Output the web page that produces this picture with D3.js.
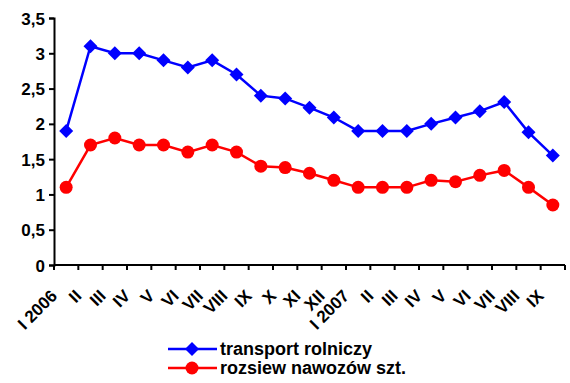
<!DOCTYPE html>
<html>
<head>
<meta charset="utf-8">
<script src="https://d3js.org/d3.v7.min.js"></script>
<style>
  body { margin: 0; background: #fff; }
  svg text { font-family: "Liberation Sans", Arial, sans-serif; font-weight: bold; fill: #000; }
</style>
</head>
<body>
<svg id="chart" width="570" height="383"></svg>
<script>
const months = ['I 2006', 'II', 'III', 'IV', 'V', 'VI', 'VII', 'VIII', 'IX', 'X', 'XI', 'XII',
                'I 2007', 'II ', 'III ', 'IV ', 'V ', 'VI ', 'VII ', 'VIII ', 'IX '];
const transport = [1.9, 3.1, 3.0, 3.0, 2.9, 2.8, 2.9, 2.7, 2.4, 2.36, 2.23, 2.09,
                   1.9, 1.9, 1.9, 2.0, 2.09, 2.18, 2.31, 1.88, 1.55];
const rozsiew = [1.1, 1.7, 1.8, 1.7, 1.7, 1.6, 1.7, 1.6, 1.4, 1.38, 1.3, 1.2,
                 1.1, 1.1, 1.1, 1.2, 1.18, 1.27, 1.34, 1.1, 0.85];
const yTicks = [0, 0.5, 1, 1.5, 2, 2.5, 3, 3.5];
const seriesNames = ['transport rolniczy', 'rozsiew nawozów szt.'];

const svg = d3.select('#chart');
const mLeft = 54, mRight = 565, mTop = 18, mBottom = 265;

const x = d3.scaleBand().domain(months).range([mLeft, mRight]);
const y = d3.scaleLinear().domain([0, 3.5]).range([mBottom, mTop]);

const fmt = d => String(d).replace('.', ',');

// y axis
const yAxis = svg.append('g')
  .attr('transform', `translate(${mLeft},0)`)
  .call(d3.axisLeft(y).tickValues(yTicks).tickFormat(fmt).tickSize(5).tickPadding(4));
yAxis.selectAll('text').style('font-size', '17px').attr('dy', '0.36em');

// x axis: ticks at category boundaries
const xg = svg.append('g');
xg.append('line')
  .attr('x1', mLeft).attr('x2', mRight)
  .attr('y1', mBottom).attr('y2', mBottom);
const bounds = months.map(m => x(m)).concat([mRight]);
xg.selectAll('line.tk').data(bounds).enter().append('line')
  .attr('class', 'tk')
  .attr('x1', d => d).attr('x2', d => d)
  .attr('y1', mBottom).attr('y2', mBottom + 5);
xg.selectAll('text').data(months).enter().append('text')
  .attr('transform', d => `translate(${x(d) + x.bandwidth() / 2 - 8},${mBottom + 32}) rotate(-45)`)
  .attr('text-anchor', 'end')
  .style('font-size', '17px')
  .text(d => d.trim());

svg.selectAll('.domain, .tick line, g > line')
  .attr('stroke', '#000').attr('stroke-width', 2);

const cx = (d, i) => x(months[i]) + x.bandwidth() / 2;
const line = d3.line().x(cx).y(d => y(d));

function diamond(sel, r) {
  sel.attr('d', `M0,${-r}L${r},0L0,${r}L${-r},0Z`);
}

// transport rolniczy
svg.append('path').datum(transport)
  .attr('fill', 'none').attr('stroke', '#0000ff').attr('stroke-width', 2.5)
  .attr('d', line);
svg.selectAll('path.dm').data(transport).enter().append('path')
  .attr('class', 'dm')
  .attr('transform', (d, i) => `translate(${cx(d, i)},${y(d)})`)
  .attr('fill', '#0000ff')
  .call(diamond, 7);

// rozsiew nawozów
svg.append('path').datum(rozsiew)
  .attr('fill', 'none').attr('stroke', '#ff0000').attr('stroke-width', 2.5)
  .attr('d', line);
svg.selectAll('circle.pt').data(rozsiew).enter().append('circle')
  .attr('class', 'pt')
  .attr('cx', cx).attr('cy', d => y(d))
  .attr('r', 6.5)
  .attr('fill', '#ff0000');

// legend
const legend = svg.append('g');
const legendRows = [
  { name: seriesNames[0], color: '#0000ff', ly: 349, diamond: true },
  { name: seriesNames[1], color: '#ff0000', ly: 368, diamond: false }
];
legendRows.forEach(r => {
  legend.append('line')
    .attr('x1', 168).attr('x2', 217).attr('y1', r.ly).attr('y2', r.ly)
    .attr('stroke', r.color).attr('stroke-width', 2.5);
  if (r.diamond) {
    legend.append('path').attr('transform', `translate(192,${r.ly})`)
      .attr('fill', r.color).call(diamond, 7);
  } else {
    legend.append('circle').attr('cx', 192).attr('cy', r.ly).attr('r', 6.5).attr('fill', r.color);
  }
  legend.append('text')
    .attr('x', 220).attr('y', r.ly + 6)
    .style('font-size', '18px')
    .text(r.name);
});
</script>
</body>
</html>
